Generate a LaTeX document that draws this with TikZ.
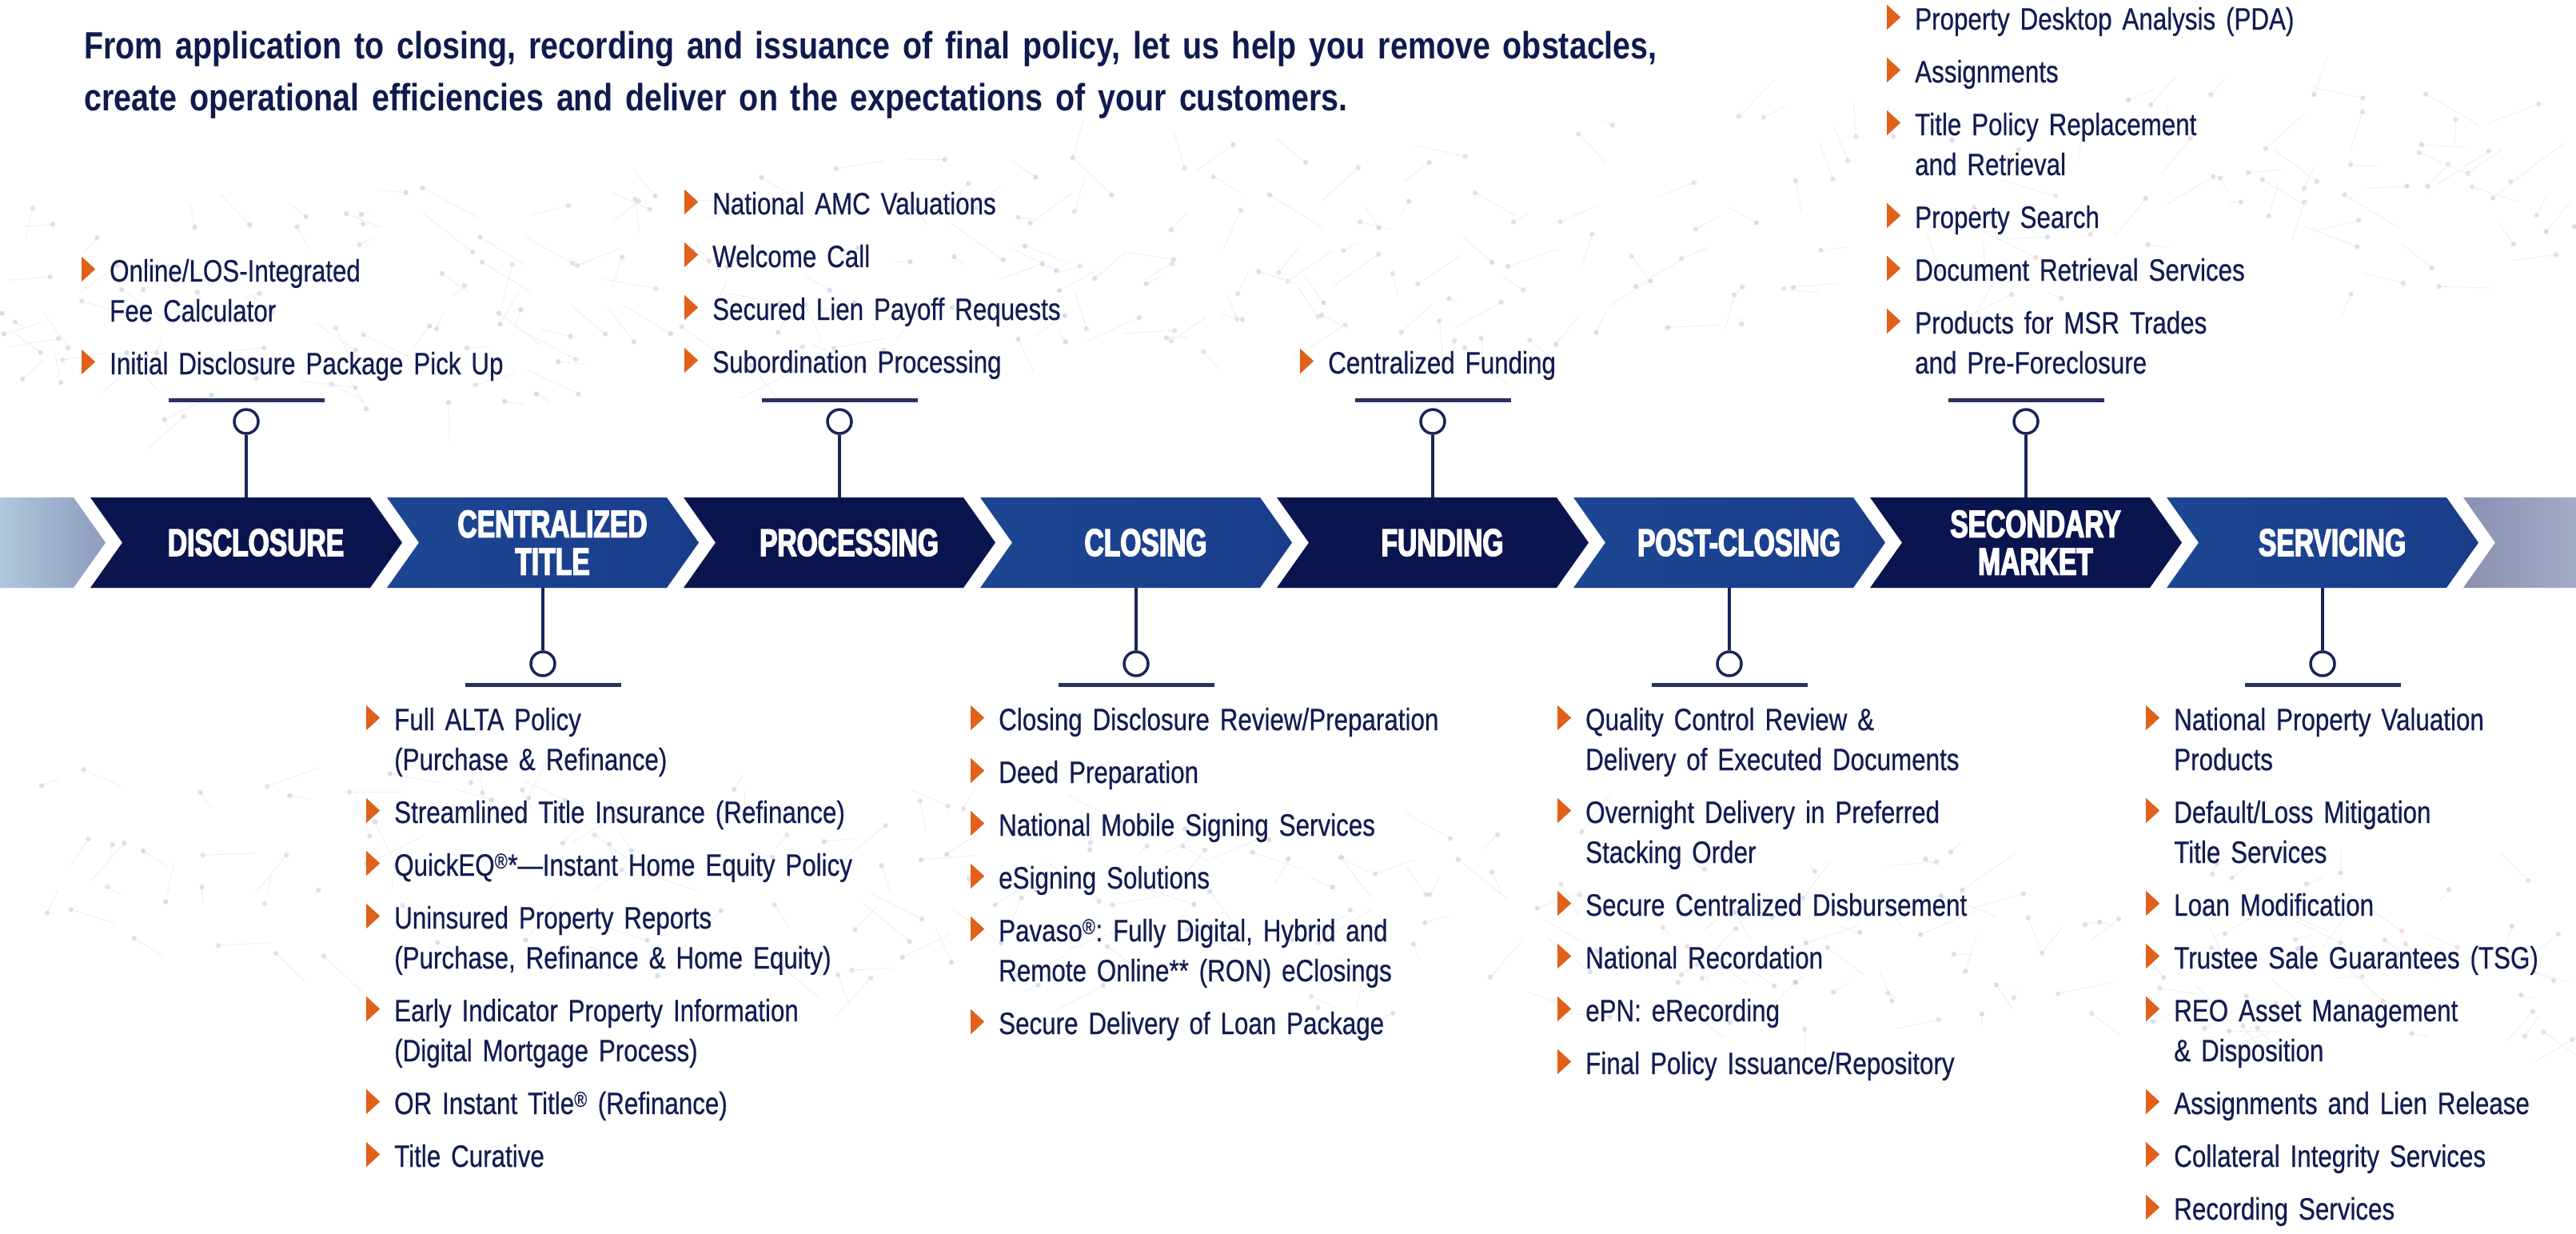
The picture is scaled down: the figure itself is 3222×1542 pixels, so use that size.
\documentclass[tikz,border=0pt]{standalone}
\usepackage{fontspec}
\setmainfont{Liberation Sans}[FakeStretch=0.81,WordSpace=0.8,FakeBold=0.5]
\newfontfamily\headfont{Liberation Sans}[FakeStretch=0.83,WordSpace=0.85]
\newfontfamily\stagefont{Liberation Sans}[FakeStretch=0.7,FakeBold=3]
\usepackage{tikz}
\usetikzlibrary{positioning}

\definecolor{navytext}{HTML}{121C52}
\definecolor{navyhead}{HTML}{0F1A4E}
\definecolor{bulletorange}{HTML}{E1601A}
\definecolor{pinnavy}{HTML}{1B2458}
\definecolor{barnavy}{HTML}{2A3160}
\definecolor{chevdarkA}{HTML}{0A1550}
\definecolor{chevdarkB}{HTML}{1F4088}
\definecolor{chevlightA}{HTML}{1C4693}
\definecolor{chevlightB}{HTML}{3A8EC4}
\definecolor{chevlightC}{HTML}{1A3D8A}
\definecolor{fadeleftA}{HTML}{AFC8DC}
\definecolor{fadeleftB}{HTML}{8E9BBD}
\definecolor{faderightA}{HTML}{8A90B1}
\definecolor{faderightB}{HTML}{A4ABC7}
\definecolor{netgray}{HTML}{C4C8D2}
\definecolor{netblue}{HTML}{AFC3E6}
\definecolor{netpink}{HTML}{EDBDC4}
\definecolor{netline}{HTML}{EEF0F4}

% orange bullet in front of every list item
\newcommand{\itm}{\leavevmode\llap{\tikz[baseline=0pt]\fill[bulletorange] (0pt,0pt) -- (17pt,15.5pt) -- (0pt,31pt) -- cycle;\hspace{18pt}}}

\pgfmathdeclarerandomlist{netcols}{{netgray}{netblue}{netpink}{netgray}}

\tikzset{
  darkchev/.style={left color=chevdarkA, middle color=chevdarkB, right color=chevdarkA},
  lightchev/.style={left color=chevlightA, middle color=chevlightB, right color=chevlightC},
  stage/.style={minimum width=390pt, minimum height=113pt, inner sep=0pt, align=center, text=white,
    font=\stagefont\bfseries\fontsize{48}{47}\selectfont},
  pindot/.style={circle, draw=pinnavy, line width=3.5pt, fill=white, minimum size=30pt, inner sep=0pt},
  pinbar/.style={rectangle, fill=barnavy, minimum width=195pt, minimum height=5pt, inner sep=0pt},
  stem/.style={draw=pinnavy, line width=3.5pt},
  itemlist/.style={anchor=base west, inner sep=0pt, align=left, text width=800pt, text=navytext,
    font=\fontsize{38.7}{50}\selectfont\frenchspacing}
}

\begin{document}
\begin{tikzpicture}[x=1pt, y=-1pt]
\useasboundingbox (0,0) rectangle (3222,1542);
\fill[white] (0,0) rectangle (3222,1542);

% faint network in the background
\pgfmathsetseed{11}
\foreach \k in {1,...,260}{
  \pgfmathsetmacro{\px}{3222*rnd}
  \pgfmathsetmacro{\py}{400-0.056*\px+140*rand}
  \pgfmathsetmacro{\qx}{\px+70*rand}
  \pgfmathsetmacro{\qy}{\py+50*rand}
  \pgfmathrandomitem{\dotcol}{netcols}
  \draw[netline, line width=1pt] (\px,\py) -- (\qx,\qy);
  \fill[\dotcol, opacity=.5] (\px,\py) circle (3.2);
}
\foreach \k in {1,...,220}{
  \pgfmathsetmacro{\px}{3222*rnd}
  \pgfmathsetmacro{\py}{1060+0.05*\px+120*rand}
  \pgfmathsetmacro{\qx}{\px+70*rand}
  \pgfmathsetmacro{\qy}{\py+50*rand}
  \pgfmathrandomitem{\dotcol}{netcols}
  \draw[netline, line width=1pt] (\px,\py) -- (\qx,\qy);
  \fill[\dotcol, opacity=.5] (\px,\py) circle (3.2);
}

\node[anchor=base west, inner sep=0pt, align=left, text width=2400pt, text=navyhead,
  font=\headfont\bfseries\fontsize{47.5}{65}\selectfont] (headline) at (105,73)
  {From application to closing, recording and issuance of final policy, let us help you remove obstacles,\\
   create operational efficiencies and deliver on the expectations of your customers.};

% the band of chevrons
\path[left color=fadeleftA, right color=fadeleftB] (0,622) -- (92,622) -- (132,678.5) -- (92,735) -- (0,735) -- cycle;
\path[left color=faderightA, right color=faderightB] (3081,622) -- (3222,622) -- (3222,735) -- (3081,735) -- (3121,678.5) -- cycle;
\foreach \i/\nm/\lbl/\chev in {0/disc/DISCLOSURE/darkchev, 1/ctitle/{CENTRALIZED\\TITLE}/lightchev,
    2/proc/PROCESSING/darkchev, 3/clos/CLOSING/lightchev, 4/fund/FUNDING/darkchev,
    5/post/POST-CLOSING/lightchev, 6/second/{SECONDARY\\MARKET}/darkchev, 7/serv/SERVICING/lightchev}{
  \path[\chev] (113+371*\i,622) -- ++(350,0) -- ++(40,56.5) -- ++(-40,56.5) -- ++(-350,0) -- ++(40,-56.5) -- cycle;
  \node[stage] (\nm) at (320+371*\i,678.5) {\lbl};
}

% pins above and below the band
\foreach \nm in {disc,proc,fund,second}{
  \node[pindot, above=78pt of \nm, xshift=-12pt] (\nm pin) {};
  \node[pinbar, above=7pt of \nm pin] (\nm bar) {};
  \draw[stem] (\nm pin) -- (\nm pin |- \nm.north);
}
\foreach \nm in {ctitle,clos,post,serv}{
  \node[pindot, below=78pt of \nm, xshift=-12pt] (\nm pin) {};
  \node[pinbar, below=7pt of \nm pin] (\nm bar) {};
  \draw[stem] (\nm pin) -- (\nm pin |- \nm.south);
}

% lists over the band
\node[itemlist] (disclist) at (137,352) {\itm Online/LOS-Integrated\\Fee Calculator\\[16pt]
  \itm Initial Disclosure Package Pick Up};
\node[itemlist] (proclist) at (891,268) {\itm National AMC Valuations\\[16pt]
  \itm Welcome Call\\[16pt]
  \itm Secured Lien Payoff Requests\\[16pt]
  \itm Subordination Processing};
\node[itemlist] (fundlist) at (1661,467) {\itm Centralized Funding};
\node[itemlist] (secondlist) at (2395,37) {\itm Property Desktop Analysis (PDA)\\[16pt]
  \itm Assignments\\[16pt]
  \itm Title Policy Replacement\\and Retrieval\\[16pt]
  \itm Property Search\\[16pt]
  \itm Document Retrieval Services\\[16pt]
  \itm Products for MSR Trades\\and Pre-Foreclosure};

% lists under the band
\node[itemlist] (ctitlelist) at (493,913) {\itm Full ALTA Policy\\(Purchase \& Refinance)\\[16pt]
  \itm Streamlined Title Insurance (Refinance)\\[16pt]
  \itm QuickEQ\textsuperscript{®}*—Instant Home Equity Policy\\[16pt]
  \itm Uninsured Property Reports\\(Purchase, Refinance \& Home Equity)\\[16pt]
  \itm Early Indicator Property Information\\(Digital Mortgage Process)\\[16pt]
  \itm OR Instant Title\textsuperscript{®} (Refinance)\\[16pt]
  \itm Title Curative};
\node[itemlist] (closlist) at (1249,913) {\itm Closing Disclosure Review/Preparation\\[16pt]
  \itm Deed Preparation\\[16pt]
  \itm National Mobile Signing Services\\[16pt]
  \itm eSigning Solutions\\[16pt]
  \itm Pavaso\textsuperscript{®}: Fully Digital, Hybrid and\\Remote Online** (RON) eClosings\\[16pt]
  \itm Secure Delivery of Loan Package};
\node[itemlist] (postlist) at (1983,913) {\itm Quality Control Review \&\\Delivery of Executed Documents\\[16pt]
  \itm Overnight Delivery in Preferred\\Stacking Order\\[16pt]
  \itm Secure Centralized Disbursement\\[16pt]
  \itm National Recordation\\[16pt]
  \itm ePN: eRecording\\[16pt]
  \itm Final Policy Issuance/Repository};
\node[itemlist] (servlist) at (2719,913) {\itm National Property Valuation\\Products\\[16pt]
  \itm Default/Loss Mitigation\\Title Services\\[16pt]
  \itm Loan Modification\\[16pt]
  \itm Trustee Sale Guarantees (TSG)\\[16pt]
  \itm REO Asset Management\\\& Disposition\\[16pt]
  \itm Assignments and Lien Release\\[16pt]
  \itm Collateral Integrity Services\\[16pt]
  \itm Recording Services};
\end{tikzpicture}
\end{document}
